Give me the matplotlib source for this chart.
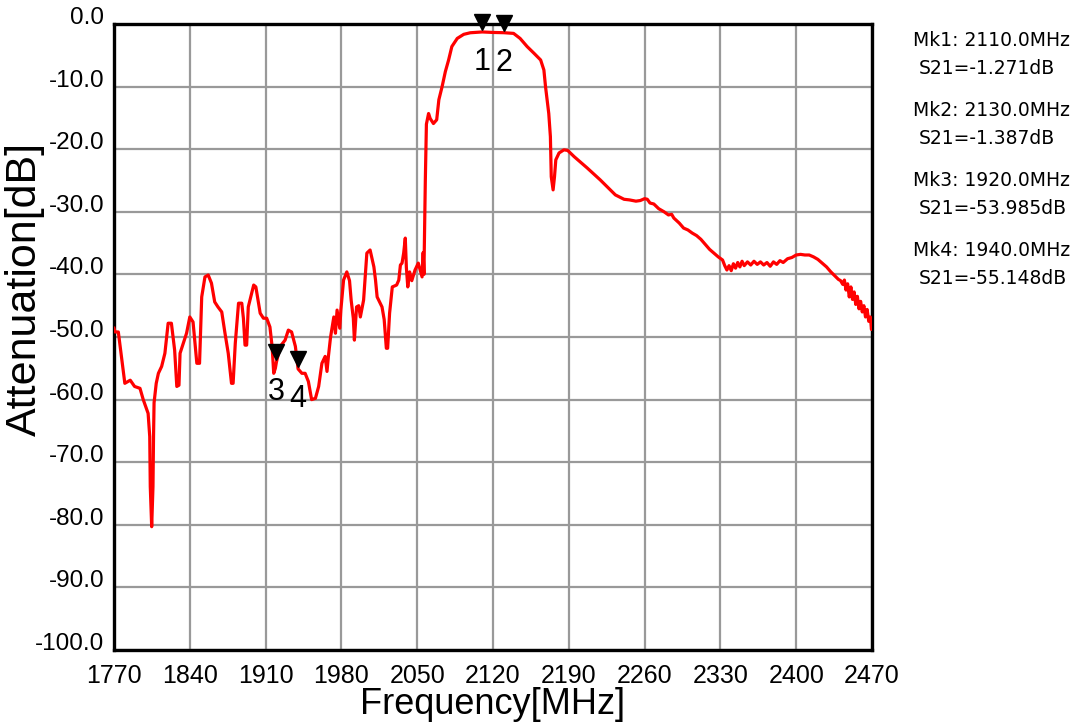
import numpy as np
import matplotlib
matplotlib.use('Agg')
import matplotlib.pyplot as plt

# measured S21 trace (MHz, dB)
freq = [1770, 1771, 1774, 1780, 1785, 1789, 1794, 1797, 1801.5, 1803, 1803.5, 1804.8, 1806, 1806.5,
        1807, 1809, 1811, 1814, 1817, 1820, 1823, 1826, 1828, 1830, 1831, 1834, 1837, 1840, 1843,
        1846.5, 1849, 1851, 1854, 1857, 1860, 1863, 1866, 1869.5, 1872.5, 1875.5, 1878.5, 1880,
        1882, 1885, 1888, 1889.5, 1891, 1892.5, 1894, 1896, 1899, 1901, 1905, 1908, 1911, 1914,
        1916, 1917.5, 1919, 1920, 1923.5, 1928, 1931, 1934, 1937.5, 1939, 1940, 1943.5, 1946.5,
        1949.5, 1952.5, 1956, 1959, 1962, 1965, 1966.7, 1968, 1970, 1973, 1974.5, 1976, 1978.5,
        1979.5, 1982, 1985, 1987.5, 1989, 1991, 1992, 1994, 1996, 1997.5, 2000.5, 2003.5, 2006.5,
        2010, 2011.5, 2013, 2017.5, 2019.5, 2021.5, 2022.7, 2024.5, 2027, 2031, 2033, 2034.5, 2036,
        2037.5, 2039, 2040, 2041.3, 2043, 2045, 2048, 2051, 2054.5, 2055.5, 2056.2, 2057.5, 2058.5,
        2060.5, 2062, 2065, 2068, 2070, 2073, 2076, 2079, 2082, 2087, 2093, 2099, 2110, 2120, 2130,
        2139, 2145, 2151.5, 2158, 2164, 2167, 2168.5, 2170, 2171.5, 2173, 2173.8, 2175.5, 2176.8,
        2178, 2181, 2185.5, 2189, 2195, 2207, 2219, 2233, 2241, 2246, 2252, 2256, 2260, 2262.5,
        2265, 2268.5, 2273, 2278, 2282, 2285, 2287, 2292, 2296, 2300, 2304, 2308, 2312, 2316, 2320,
        2324, 2328, 2332, 2334, 2336, 2338, 2340, 2342, 2344, 2346, 2348, 2350, 2352, 2355, 2358,
        2361, 2364, 2367, 2370, 2373, 2376, 2379, 2382, 2385, 2388, 2392, 2396, 2400, 2404, 2408,
        2412, 2416, 2420, 2424, 2428, 2432, 2436, 2439, 2441, 2443, 2444.5, 2446, 2447.5, 2449,
        2450.5, 2452, 2453.5, 2455, 2456.5, 2458, 2459.5, 2461, 2462.5, 2464, 2465.5, 2467, 2468.5,
        2469.5, 2470]
s21 = [-48.6, -49.2, -49.2, -57.4, -56.9, -57.9, -58.2, -60.0, -62.2, -65.9, -73.9, -80.3, -73.9, -66.0,
       -60.5, -57.4, -55.8, -54.7, -52.6, -47.8, -47.8, -52.1, -57.9, -57.7, -52.6, -51.0, -49.4,
       -46.8, -47.6, -54.2, -54.2, -43.6, -40.4, -40.1, -41.4, -44.4, -45.2, -46.0, -49.4, -52.6,
       -57.4, -57.4, -51.0, -44.6, -44.6, -47.0, -51.3, -51.3, -45.2, -43.8, -41.7, -42.0, -46.2,
       -47.0, -47.0, -48.4, -51.5, -55.8, -55.0, -54.0, -51.5, -50.5, -48.9, -49.2, -51.5, -53.7,
       -55.1, -55.8, -55.8, -57.1, -60.0, -59.8, -57.9, -54.2, -53.1, -55.5, -53.1, -50.0, -46.8,
       -49.4, -45.7, -48.6, -45.7, -40.9, -39.6, -41.0, -44.1, -47.0, -50.5, -45.2, -45.0, -46.8,
       -44.1, -36.6, -36.1, -38.8, -40.9, -43.6, -45.2, -47.2, -51.8, -51.8, -46.2, -42.0, -41.7,
       -40.9, -38.5, -38.2, -36.6, -34.2, -38.9, -42.0, -39.6, -41.0, -39.3, -38.2, -40.4, -36.5,
       -40.0, -25.0, -16.0, -14.3, -15.1, -15.9, -15.3, -12.1, -10.0, -7.6, -5.75, -3.6, -2.3,
       -1.65, -1.4, -1.27, -1.35, -1.39, -1.5, -2.3, -3.6, -4.7, -5.75, -7.35, -10.0, -12.1, -14.3,
       -18.0, -24.4, -26.5, -24.4, -21.7, -20.6, -20.1, -20.2, -21.2, -23.0, -24.9, -27.3, -28.0,
       -28.1, -28.3, -28.2, -27.9, -28.0, -28.6, -28.75, -29.5, -30.0, -30.5, -30.4, -31.0, -31.8,
       -32.6, -32.9, -33.4, -33.8, -34.4, -35.2, -36.0, -36.6, -37.2, -37.7, -38.6, -39.3, -38.6,
       -39.4, -38.3, -39.0, -38.1, -38.8, -37.9, -38.6, -38.0, -38.5, -37.9, -38.4, -38.0, -38.5,
       -38.1, -38.7, -38.0, -38.4, -37.8, -38.1, -37.5, -37.3, -36.9, -36.8, -36.9, -36.9, -37.2,
       -37.6, -38.2, -38.8, -39.6, -40.3, -40.8, -41.0, -41.6, -40.9, -42.5, -41.5, -43.6, -42.0,
       -44.0, -42.8, -44.8, -43.5, -45.5, -44.3, -46.0, -45.0, -46.8, -45.6, -47.5, -46.8, -48.8,
       -48.0]

mk_num = ['1', '2', '3', '4']
mk_freq = [2110.0, 2130.0, 1920.0, 1940.0]
mk_val = [-1.271, -1.387, -53.985, -55.148]

xticks = [1770, 1840, 1910, 1980, 2050, 2120, 2190, 2260, 2330, 2400, 2470]
yticks = [0, -10, -20, -30, -40, -50, -60, -70, -80, -90, -100]

W, H = 1088, 726
fig = plt.figure(figsize=(W / 100, H / 100), dpi=100)
ax = fig.add_axes([114 / W, 1 - 650 / H, (872 - 114) / W, (650 - 24) / H])

ax.plot(freq, s21, color='#ff0000', lw=2.3, zorder=3)

ax.set_xlim(1770, 2470)
ax.set_ylim(-100, 0)
ax.set_xticks(xticks)
ax.set_yticks(yticks)
ax.set_xticklabels([str(t) for t in xticks], family='Liberation Sans', fontsize=18)
ax.set_yticklabels(['%.1f' % t for t in yticks], family='Liberation Sans', fontsize=17.5)
for lab in ax.get_yticklabels():
    lab.set_va('baseline')
ax.tick_params(axis='both', length=0)
ax.tick_params(axis='x', pad=10)
ax.tick_params(axis='y', pad=7)
ax.grid(True, color='#999999', lw=1.6)
ax.set_axisbelow(True)
for sp in ax.spines.values():
    sp.set_linewidth(2.4)
    sp.set_color('black')

# markers
for n, f, v in zip(mk_num, mk_freq, mk_val):
    ax.plot(f, v + 1.6, marker='v', color='black', ms=11, clip_on=False, zorder=5)
    ax.text(f, v - 4.8, n, ha='center', va='center', fontsize=22,
            family='Liberation Sans', zorder=5)

fig.text(25 / W, 1 - 289 / H, 'Attenuation[dB]', rotation=90, ha='center', va='center',
         family='Liberation Sans', fontsize=31)
fig.text(493 / W, 1 - 714 / H, 'Frequency[MHz]', ha='center', va='baseline',
         family='Liberation Sans', fontsize=26)

# marker readout
rows = [40, 110, 180, 250]
for y, n, f, v in zip(rows, mk_num, mk_freq, mk_val):
    fig.text(913 / W, 1 - y / H, 'Mk%s: %.1fMHz' % (n, f), ha='left', va='center',
             family='DejaVu Sans', fontsize=13.5)
    fig.text(919 / W, 1 - (y + 29) / H, 'S21=%.3fdB' % v, ha='left', va='center',
             family='DejaVu Sans', fontsize=13.5)

fig.savefig('out.png', dpi=100)
